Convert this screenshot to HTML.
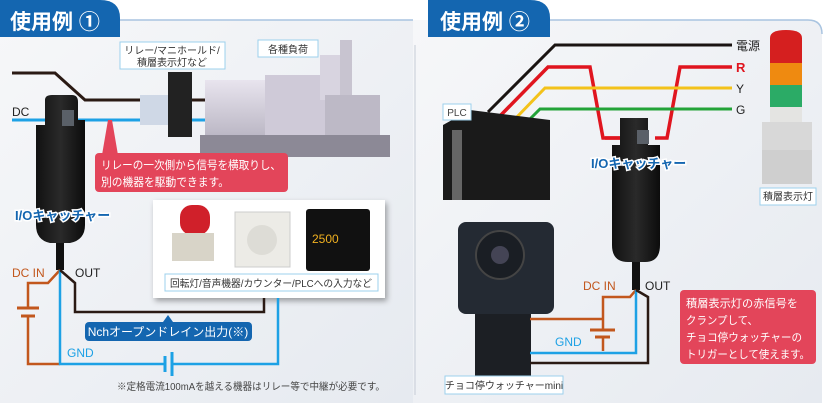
<!DOCTYPE html>
<html><head><meta charset="utf-8"><style>
body{margin:0;background:#fff;}
svg{display:block;font-family:"Liberation Sans","Noto Sans CJK JP",sans-serif;}
</style></head><body>
<svg width="826" height="403" viewBox="0 0 826 403" xmlns="http://www.w3.org/2000/svg">
<defs>
<linearGradient id="bg" x1="0" y1="0" x2="1" y2="1"><stop offset="0" stop-color="#f6f7f9"/><stop offset="1" stop-color="#e6eaf0"/></linearGradient>
<linearGradient id="dev" x1="0" y1="0" x2="1" y2="0"><stop offset="0" stop-color="#111"/><stop offset="0.5" stop-color="#2a2a2a"/><stop offset="1" stop-color="#0c0c0c"/></linearGradient>
<linearGradient id="mach" x1="0" y1="0" x2="0" y2="1"><stop offset="0" stop-color="#e8e4ee"/><stop offset="1" stop-color="#b8b4c2"/></linearGradient>
<filter id="sh"><feDropShadow dx="2" dy="3" stdDeviation="3" flood-opacity="0.35"/></filter>
</defs>
<path d="M0 20 H413 V403 H0 Z" fill="url(#bg)"/>
<path d="M413 20 H810 Q822 20 822 32 V403 H413 Z" fill="url(#bg)"/>
<line x1="120" y1="20" x2="413" y2="20" stroke="#a9c4e0" stroke-width="1.5"/>
<path d="M548 20 H808 Q822 20 822 34" fill="none" stroke="#a9c4e0" stroke-width="1.5"/>
<line x1="415" y1="45" x2="415" y2="395" stroke="#c5ccd6" stroke-width="1"/>
<path d="M0 0 H100 Q120 0 120 18 V37 H0 Z" fill="#1466b0"/>
<text x="10" y="29" font-size="21" fill="#fff" font-weight="bold">使用例 ①</text>
<path d="M428 0 H530 Q550 0 550 18 V37 H428 Z" fill="#1466b0"/>
<text x="440" y="29" font-size="21" fill="#fff" font-weight="bold">使用例 ②</text>

<polyline points="12,73 55,73 85,100 270,100" fill="none" stroke="#2a1a14" stroke-width="3"/>
<line x1="12" y1="120" x2="270" y2="120" stroke="#1da1e5" stroke-width="3"/>
<text x="12" y="116" font-size="12" fill="#222">DC</text>
<rect x="205" y="80" width="75" height="60" fill="url(#mach)"/>
<rect x="265" y="75" width="60" height="75" fill="#cfcad8"/>
<rect x="320" y="55" width="28" height="45" fill="#d8d4e0"/>
<rect x="340" y="40" width="12" height="60" fill="#c8c4d0"/>
<rect x="325" y="95" width="55" height="50" fill="#bdb9c6"/>
<rect x="200" y="135" width="190" height="22" fill="#8c8996"/>
<rect x="258" y="40" width="60" height="17" fill="#fff" stroke="#9cd0ec"/>
<text x="288" y="53" font-size="10" fill="#333" text-anchor="middle">各種負荷</text>
<rect x="140" y="95" width="32" height="30" fill="#cfd8e6"/>
<rect x="168" y="72" width="24" height="65" fill="#222"/>
<rect x="120" y="42" width="105" height="27" fill="#fff" stroke="#9cd0ec"/>
<text x="172" y="54" font-size="10" fill="#333" text-anchor="middle">リレー/マニホールド/</text>
<text x="172" y="66" font-size="10" fill="#333" text-anchor="middle">積層表示灯など</text>
<polygon points="108,120 112,120 118,155 102,155" fill="#e3455a"/>
<rect x="95" y="153" width="193" height="39" rx="4" fill="#e3455a"/>
<text x="101" y="169" font-size="11.5" fill="#fff" textLength="180" lengthAdjust="spacingAndGlyphs">リレーの一次側から信号を横取りし、</text>
<text x="101" y="186" font-size="11.5" fill="#fff" textLength="128" lengthAdjust="spacingAndGlyphs">別の機器を駆動できます。</text>
<path d="M45 100 Q45 95 52 95 H72 Q78 95 78 102 V120 H85 V225 Q85 240 70 243 H50 Q36 240 36 225 V125 H45 Z" fill="url(#dev)"/>
<rect x="62" y="110" width="12" height="16" fill="#5a6068"/>
<rect x="56" y="243" width="8" height="27" fill="#111"/>
<text x="15" y="220" font-size="13" font-weight="bold" fill="#1466b0" stroke="#fff" stroke-width="3" paint-order="stroke">I/Oキャッチャー</text>
<rect x="153" y="200" width="232" height="98" fill="#fff" filter="url(#sh)"/>
<rect x="180" y="205" width="30" height="30" rx="12" fill="#d0202a"/>
<rect x="172" y="233" width="42" height="28" fill="#d8d4c8"/>
<rect x="235" y="212" width="55" height="55" fill="#ecebe6" stroke="#ccc"/>
<circle cx="262" cy="240" r="15" fill="#dddcd6"/>
<rect x="306" y="209" width="64" height="62" rx="3" fill="#111"/>
<text x="312" y="243" font-size="12" fill="#f0b020">2500</text>
<rect x="165" y="274" width="213" height="17" fill="#fff" stroke="#9cd0ec"/>
<text x="271" y="287" font-size="10" fill="#333" text-anchor="middle" textLength="202" lengthAdjust="spacingAndGlyphs">回転灯/音声機器/カウンター/PLCへの入力など</text>
<polyline points="60,270 48,283 28,283 28,308" fill="none" stroke="#c2571d" stroke-width="2.5"/>
<line x1="17" y1="308" x2="39" y2="308" stroke="#c2571d" stroke-width="3"/>
<line x1="21" y1="316" x2="35" y2="316" stroke="#c2571d" stroke-width="3"/>
<polyline points="28,316 28,364 60,364" fill="none" stroke="#c2571d" stroke-width="2.5"/>
<polyline points="60,270 60,364 165,364" fill="none" stroke="#1da1e5" stroke-width="2.5"/>
<line x1="165" y1="356" x2="165" y2="372" stroke="#1da1e5" stroke-width="3"/>
<line x1="172" y1="352" x2="172" y2="376" stroke="#1da1e5" stroke-width="3"/>
<polyline points="172,364 278,364 278,298" fill="none" stroke="#1da1e5" stroke-width="2.5"/>
<polyline points="60,270 75,283 75,312 264,312 264,298" fill="none" stroke="#2a1a14" stroke-width="2.5"/>
<text x="12" y="277" font-size="12" fill="#c2571d">DC IN</text>
<text x="75" y="277" font-size="12" fill="#222">OUT</text>
<text x="67" y="357" font-size="12" fill="#1da1e5">GND</text>
<polygon points="168,315 163,322 173,322" fill="#1466b0"/>
<rect x="85" y="322" width="167" height="19" rx="4" fill="#1466b0"/>
<text x="168" y="336" font-size="12" fill="#fff" text-anchor="middle">Nchオープンドレイン出力(※)</text>
<text x="117" y="390" font-size="10" fill="#444" textLength="268" lengthAdjust="spacingAndGlyphs">※定格電流100mAを越える機器はリレー等で中継が必要です。</text>

<polyline points="488,112 555,45 732,45" fill="none" stroke="#1a1412" stroke-width="3"/>
<polyline points="500,116 548,67 590,67 603,138 628,138" fill="none" stroke="#e0151f" stroke-width="3.5"/>
<polyline points="655,138 667,138 680,67 732,67" fill="none" stroke="#e0151f" stroke-width="3.5"/>
<polyline points="515,119 545,88 732,88" fill="none" stroke="#f3c21a" stroke-width="3"/>
<polyline points="527,122 540,109 732,109" fill="none" stroke="#23a338" stroke-width="3"/>
<line x1="605" y1="138" x2="630" y2="138" stroke="#e0151f" stroke-width="3.5"/>
<text x="736" y="50" font-size="12" fill="#222">電源</text>
<text x="736" y="72" font-size="13" fill="#e0151f" font-weight="bold">R</text>
<text x="736" y="93" font-size="12" fill="#222">Y</text>
<text x="736" y="114" font-size="12" fill="#222">G</text>
<polygon points="443,125 470,110 550,120 550,200 443,200" fill="#1a1a1a"/>
<rect x="452" y="130" width="10" height="70" fill="#666"/>
<rect x="443" y="104" width="28" height="16" fill="#fff" stroke="#9cd0ec"/>
<text x="457" y="116" font-size="10" fill="#444" text-anchor="middle">PLC</text>
<path d="M620 118 H648 V145 H660 V245 Q660 262 645 262 H628 Q612 262 612 245 V145 H620 Z" fill="url(#dev)"/>
<rect x="637" y="130" width="12" height="14" fill="#5a6068"/>
<rect x="632" y="262" width="8" height="28" fill="#111"/>
<text x="591" y="168" font-size="13" font-weight="bold" fill="#1466b0" stroke="#fff" stroke-width="3" paint-order="stroke">I/Oキャッチャー</text>
<path d="M770 38 Q770 30 786 30 Q802 30 802 38 V65 H770 Z" fill="#d51f1f"/>
<rect x="770" y="63" width="32" height="22" fill="#ef8a10"/>
<rect x="770" y="85" width="32" height="22" fill="#2bab66"/>
<rect x="770" y="107" width="32" height="22" fill="#e4e4e2"/>
<rect x="762" y="122" width="50" height="62" fill="#d8d8d8"/>
<rect x="762" y="150" width="50" height="34" fill="#cfcfcf"/>
<rect x="760" y="188" width="56" height="17" fill="#fff" stroke="#9cd0ec"/>
<text x="788" y="200" font-size="10" fill="#333" text-anchor="middle">積層表示灯</text>
<rect x="458" y="222" width="96" height="92" rx="8" fill="#242a33"/>
<circle cx="500" cy="255" r="24" fill="#1a1e24" stroke="#444" stroke-width="2"/>
<circle cx="500" cy="255" r="9" fill="#445"/>
<rect x="475" y="314" width="56" height="62" fill="#1c1f24"/>
<rect x="445" y="376" width="118" height="18" fill="#fff" stroke="#9cd0ec"/>
<text x="504" y="389" font-size="10" fill="#333" text-anchor="middle">チョコ停ウォッチャーmini</text>
<polyline points="636,290 630,297 603,297 603,330" fill="none" stroke="#c2571d" stroke-width="2.5"/>
<line x1="530" y1="319" x2="603" y2="319" stroke="#c2571d" stroke-width="2.5"/>
<line x1="590" y1="330" x2="615" y2="330" stroke="#c2571d" stroke-width="3"/>
<line x1="595" y1="337" x2="610" y2="337" stroke="#c2571d" stroke-width="3"/>
<line x1="603" y1="337" x2="603" y2="351" stroke="#c2571d" stroke-width="2.5"/>
<polyline points="636,290 636,353 530,353" fill="none" stroke="#1da1e5" stroke-width="2.5"/>
<polyline points="636,290 648,297 648,363 530,363" fill="none" stroke="#2a1a14" stroke-width="2.5"/>
<text x="583" y="290" font-size="12" fill="#c2571d">DC IN</text>
<text x="645" y="290" font-size="12" fill="#222">OUT</text>
<text x="555" y="346" font-size="12" fill="#1da1e5">GND</text>
<rect x="680" y="290" width="136" height="74" rx="4" fill="#e3455a"/>
<text x="686" y="307" font-size="11" fill="#fff" textLength="112" lengthAdjust="spacingAndGlyphs">積層表示灯の赤信号を</text>
<text x="686" y="324" font-size="11" fill="#fff" textLength="72" lengthAdjust="spacingAndGlyphs">クランプして、</text>
<text x="686" y="341" font-size="11" fill="#fff" textLength="116" lengthAdjust="spacingAndGlyphs">チョコ停ウォッチャーの</text>
<text x="686" y="358" font-size="11" fill="#fff" textLength="124" lengthAdjust="spacingAndGlyphs">トリガーとして使えます。</text>
</svg>
</body></html>
